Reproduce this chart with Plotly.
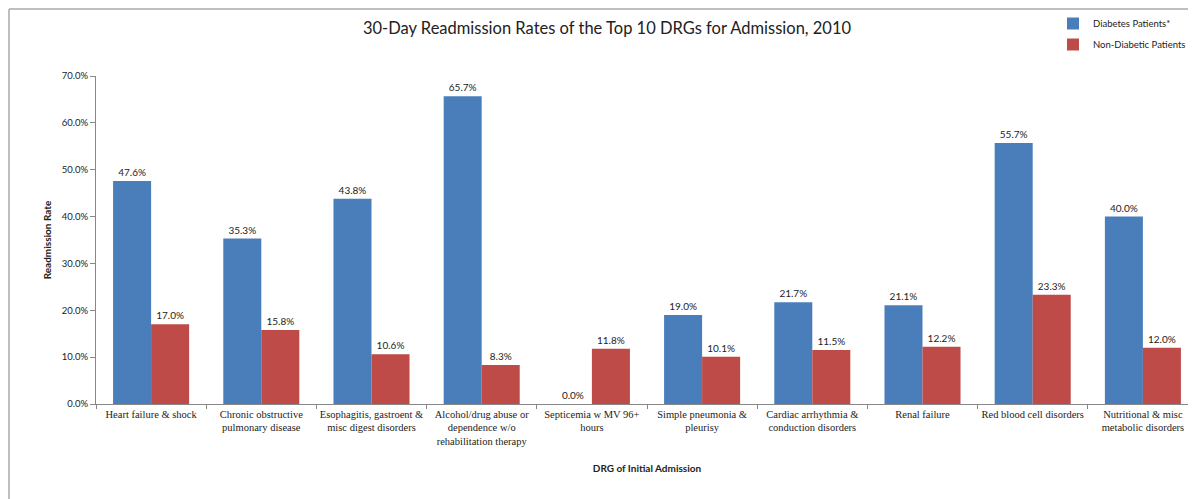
import plotly.graph_objects as go

categories = [
    "Heart failure & shock",
    "Chronic obstructive<br>pulmonary disease",
    "Esophagitis, gastroent &<br>misc digest disorders",
    "Alcohol/drug abuse or<br>dependence w/o<br>rehabilitation therapy",
    "Septicemia w MV 96+<br>hours",
    "Simple pneumonia &<br>pleurisy",
    "Cardiac arrhythmia &<br>conduction disorders",
    "Renal failure",
    "Red blood cell disorders",
    "Nutritional & misc<br>metabolic disorders",
]
diabetes = [47.6, 35.3, 43.8, 65.7, 0.0, 19.0, 21.7, 21.1, 55.7, 40.0]
non_diabetic = [17.0, 15.8, 10.6, 8.3, 11.8, 10.1, 11.5, 12.2, 23.3, 12.0]
y_ticks = [0, 0.1, 0.2, 0.3, 0.4, 0.5, 0.6, 0.7]

W, H = 1196, 499
OFF = 8  # page body margin
L, T = 96 - OFF, 76 - OFF
pw, ph = 1102, 328
R = W - L - pw
B = H - T - ph

def px(x):
    return (x - OFF - L) / pw

def py(y):
    return (H - B - (y - OFF)) / ph

fig = go.Figure()
fig.add_trace(go.Bar(
    x=categories, y=[v / 100 for v in diabetes], name="Diabetes Patients*",
    legendgroup="a",
    marker=dict(color="#4A7EBB", line=dict(width=0)),
    texttemplate="%{y:.1%}", textposition="outside",
    textfont=dict(family="Lato, sans-serif", size=10, color="#222"),
    cliponaxis=False,
))
fig.add_trace(go.Bar(
    x=categories, y=[v / 100 for v in non_diabetic], name="Non-Diabetic Patients",
    legendgroup="b",
    marker=dict(color="#BE4B48", line=dict(width=0)),
    texttemplate="%{y:.1%}", textposition="outside",
    textfont=dict(family="Lato, sans-serif", size=10, color="#222"),
    cliponaxis=False,
))

fig.update_layout(
    width=W, height=H,
    margin=dict(l=L, r=R, t=T, b=B, autoexpand=False),
    paper_bgcolor="white", plot_bgcolor="white",
    barmode="group", bargap=0.31, bargroupgap=0,
    title=dict(text="30-Day Readmission Rates of the Top 10 DRGs for Admission, 2010",
               x=(607 - OFF) / W, xanchor="center", y=1 - (28 - OFF) / H, yanchor="middle",
               font=dict(family="Lato, sans-serif", size=16.5, color="#222")),
    legend=dict(x=px(1053), y=py(9), xanchor="left", yanchor="top",
                font=dict(family="Lato, sans-serif", size=9.5, color="#222"),
                bgcolor="rgba(0,0,0,0)", tracegroupgap=2, itemwidth=30),
    showlegend=True,
)
fig.update_yaxes(
    range=[0, 0.7], tickvals=y_ticks, tickformat=".1%",
    showgrid=False, zeroline=False, automargin=False,
    showline=True, linecolor="#888", linewidth=1,
    ticks="outside", ticklen=5, tickcolor="#888",
    tickfont=dict(family="Lato, sans-serif", size=9.5, color="#222"),
    title=dict(text="<b>Readmission Rate</b>", standoff=8,
               font=dict(family="Lato, sans-serif", size=10, color="#222")),
)
fig.update_xaxes(
    showgrid=False, showline=True, linecolor="#888", linewidth=1, automargin=False,
    ticks="outside", ticklen=4, tickcolor="#888", tickson="boundaries",
    tickangle=0,
    tickfont=dict(family="'Liberation Serif', serif", size=10.5, color="#222"),
    title=dict(text="<b>DRG of Initial Admission</b>", standoff=19,
               font=dict(family="Lato, sans-serif", size=10, color="#222")),
)
fig.add_shape(type="line", xref="paper", yref="paper",
              x0=px(9), x1=px(9), y0=py(499), y1=py(9),
              line=dict(color="#aaa", width=1.5), layer="below")
fig.add_shape(type="line", xref="paper", yref="paper",
              x0=px(9), x1=px(1200), y0=py(9), y1=py(9),
              line=dict(color="#aaa", width=1.5), layer="below")

fig.write_html("out.html")
